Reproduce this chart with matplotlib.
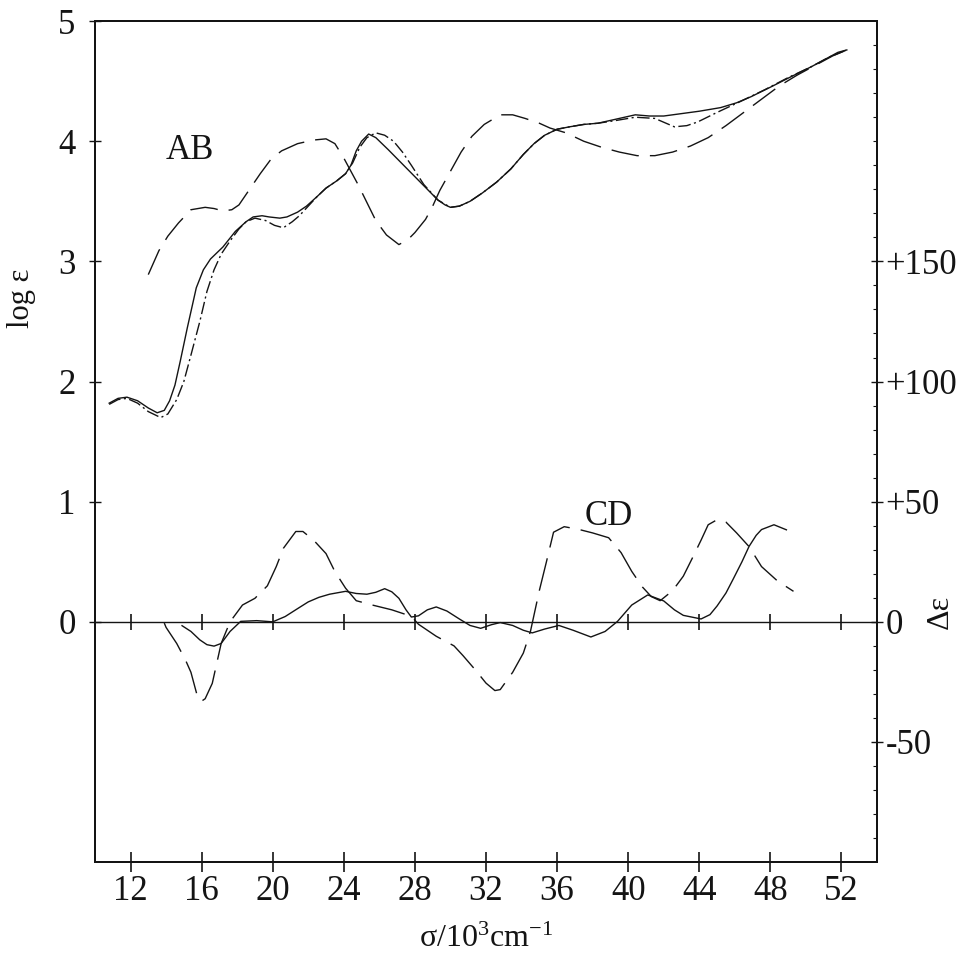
import numpy as np
import matplotlib
matplotlib.use("Agg")
import matplotlib.pyplot as plt

plt.rcParams["font.family"] = ["Liberation Serif", "DejaVu Serif"]
plt.rcParams["mathtext.fontset"] = "custom"
plt.rcParams["mathtext.rm"] = "Liberation Serif"
plt.rcParams["mathtext.it"] = "Liberation Serif:italic"

# ---- absorption (log eps) ----
ab_solid_x = [10.8, 11.3, 11.8, 12.4, 13.0, 13.5, 13.9, 14.2, 14.5, 14.8, 15.2, 15.7, 16.1, 16.5,
              17.2, 17.9, 18.5, 18.9, 19.4, 19.8, 20.4, 20.8, 21.4, 21.9, 22.5, 23.0, 23.6, 24.1,
              24.4, 24.7, 25.0, 25.4, 25.8, 26.5, 27.1, 27.7, 28.5, 29.3, 29.7, 30.0, 30.5, 31.1,
              31.8, 32.6, 33.4, 34.1, 34.7, 35.3, 36.0, 36.7, 37.5, 38.3, 39.2, 40.4, 41.2, 42.0,
              43.0, 44.0, 45.2, 46.1, 46.9, 48.0, 49.2, 50.3, 51.3, 51.8, 52.3]
ab_solid_y = [1.82, 1.86, 1.87, 1.84, 1.78, 1.74, 1.76, 1.84, 1.97, 2.17, 2.45, 2.78, 2.93, 3.02,
              3.12, 3.25, 3.33, 3.37, 3.38, 3.37, 3.36, 3.37, 3.41, 3.46, 3.54, 3.61, 3.67, 3.73,
              3.80, 3.92, 4.00, 4.06, 4.03, 3.93, 3.84, 3.75, 3.63, 3.51, 3.47, 3.45, 3.46, 3.50,
              3.57, 3.66, 3.77, 3.89, 3.98, 4.05, 4.10, 4.12, 4.14, 4.15, 4.18, 4.22, 4.21, 4.21,
              4.23, 4.25, 4.28, 4.32, 4.37, 4.45, 4.54, 4.62, 4.70, 4.74, 4.76]

ab_dashdot_x = [10.8, 11.3, 11.8, 12.4, 13.0, 13.7, 14.1, 14.6, 15.0, 15.4, 15.9, 16.3, 16.7, 17.1,
                17.6, 18.1, 18.5, 19.0, 19.6, 20.1, 20.6, 21.1, 21.5, 22.0, 22.5, 23.0, 23.6, 24.1,
                24.5, 24.9, 25.3, 25.8, 26.3, 26.8, 27.3, 27.8, 28.5, 29.3, 30.0, 30.5, 31.1, 31.8,
                32.6, 33.4, 34.1, 34.7, 35.3, 36.0, 36.7, 37.5, 38.3, 39.2, 40.4, 41.5, 42.6, 43.3,
                43.9, 45.0, 46.3, 47.7, 49.0, 50.3, 51.3, 52.3]
ab_dashdot_y = [1.81, 1.85, 1.86, 1.82, 1.75, 1.70, 1.73, 1.85, 2.00, 2.22, 2.50, 2.75, 2.93, 3.06,
                3.17, 3.27, 3.33, 3.36, 3.34, 3.30, 3.28, 3.33, 3.38, 3.46, 3.54, 3.61, 3.67, 3.73,
                3.82, 3.95, 4.03, 4.07, 4.05, 4.00, 3.91, 3.80, 3.64, 3.51, 3.45, 3.46, 3.50, 3.57,
                3.66, 3.77, 3.89, 3.98, 4.05, 4.10, 4.12, 4.14, 4.15, 4.17, 4.20, 4.19, 4.12, 4.13,
                4.16, 4.24, 4.33, 4.43, 4.53, 4.62, 4.70, 4.76]

ab_dashed_x = [13.0, 13.6, 14.1, 14.7, 15.4, 16.2, 16.7, 17.2, 17.7, 18.1, 18.7, 19.3, 19.9, 20.5,
               21.4, 22.3, 23.0, 23.5, 24.0, 24.4, 24.8, 25.3, 25.8, 26.4, 27.1, 27.6, 28.0, 28.6,
               29.0, 29.4, 30.0, 30.6, 31.2, 31.9, 32.8, 33.5, 34.2, 35.0, 35.6, 36.5, 37.5, 38.5,
               39.5, 40.5, 41.5, 42.5, 43.5, 44.5, 45.5, 46.5, 47.5, 48.5, 49.5, 50.5, 51.5, 52.3]
ab_dashed_y = [2.89, 3.09, 3.21, 3.32, 3.43, 3.45, 3.44, 3.42, 3.43, 3.47, 3.60, 3.73, 3.85, 3.92,
               3.98, 4.01, 4.02, 3.98, 3.86, 3.75, 3.64, 3.49, 3.34, 3.22, 3.14, 3.18, 3.24, 3.35,
               3.46, 3.59, 3.75, 3.91, 4.04, 4.14, 4.22, 4.22, 4.19, 4.15, 4.11, 4.07, 4.00, 3.95,
               3.91, 3.88, 3.88, 3.91, 3.96, 4.03, 4.13, 4.24, 4.35, 4.46, 4.55, 4.63, 4.71, 4.76]

# ---- circular dichroism (delta eps) ----
cd_solid_x = [14.9, 15.4, 15.9, 16.3, 16.7, 17.1, 17.6, 18.2, 19.1, 20.0, 20.7, 21.4, 22.0, 22.6,
              23.2, 24.1, 24.7, 25.3, 25.8, 26.3, 26.7, 27.1, 27.5, 27.8, 28.2, 28.7, 29.2, 29.8,
              30.5, 31.1, 31.7, 32.3, 32.8, 33.5, 34.1, 34.6, 35.3, 36.1, 36.9, 37.9, 38.7, 39.4,
              40.2, 41.1, 42.0, 42.6, 43.1, 44.1, 44.6, 45.0, 45.5, 45.9, 46.4, 46.8, 47.2, 47.5,
              48.2, 48.9]
cd_solid_y = [-1.6, -4.0, -7.5, -9.5, -10.1, -9.0, -4.0, 0.2, 0.5, 0.0, 2.2, 5.5, 8.3, 10.2,
              11.5, 12.7, 11.8, 11.5, 12.3, 13.8, 12.5, 9.8, 5.0, 2.0, 2.5, 5.0, 6.2, 4.5,
              1.2, -1.5, -2.7, -1.2, -0.3, -1.5, -3.5, -4.6, -3.0, -1.5, -3.5, -6.3, -4.0, 0.2,
              7.0, 11.2, 8.7, 5.0, 2.7, 1.2, 3.0, 6.6, 12.0, 17.7, 25.0, 31.4, 36.0, 38.4,
              40.4, 38.3]

cd_dashed_x = [13.9, 14.0, 14.6, 15.1, 15.4, 15.8, 16.0, 16.2, 16.6, 17.1, 17.6, 18.3, 19.0, 19.7,
               20.2, 20.6, 21.3, 21.7, 22.3, 23.0, 23.5, 24.1, 24.7, 25.6, 26.7, 27.8, 28.2, 29.2,
               30.2, 30.7, 31.4, 32.0, 32.5, 32.8, 33.5, 34.1, 34.5, 35.0, 35.4, 35.8, 36.4, 37.2,
               38.0, 38.9, 39.6, 40.2, 40.8, 41.3, 41.8, 42.5, 43.1, 43.6, 44.1, 44.5, 45.0, 45.5,
               46.1, 46.8, 47.5, 48.4, 49.3]
cd_dashed_y = [-0.5, -2.3, -9.0, -16.0, -21.0, -32.0, -33.0, -32.0, -25.6, -9.0, 0.0, 7.0, 9.8, 15.0,
               23.0, 30.6, 37.6, 37.6, 34.0, 28.4, 20.9, 14.0, 8.8, 7.0, 5.0, 2.3, -1.0, -6.0,
               -10.0, -14.0, -20.0, -25.5, -28.6, -28.2, -21.0, -13.0, -4.0, 13.0, 25.0, 37.3, 39.6, 38.5,
               37.0, 35.0, 28.8, 21.0, 14.5, 10.5, 8.8, 13.0, 19.0, 26.4, 34.0, 40.4, 42.5, 41.5,
               37.0, 31.3, 23.0, 17.0, 12.7]

x_ticks = [12, 16, 20, 24, 28, 32, 36, 40, 44, 48, 52]
left_ticks = [0, 1, 2, 3, 4, 5]
right_ticks = [-50, 0, 50, 100, 150]
right_labels = ["-50", "0", "+50", "+100", "+150"]

ink = "#141414"
fs = 25

fig = plt.figure(figsize=(9.64, 9.59), dpi=100)
ax = fig.add_axes([0.0985, 0.101, 0.8113, 0.877])
ax.set_xlim(10, 54)
ax.set_ylim(-2, 5)
ax2 = ax.twinx()
ax2.set_ylim(-100, 250)

lw = 1.0
ax.plot(ab_solid_x, ab_solid_y, color=ink, lw=lw)
ax.plot(ab_dashdot_x, ab_dashdot_y, color=ink, lw=lw, dashes=(9, 2.5, 1.5, 2.5))
ax.plot(ab_dashed_x, ab_dashed_y, color=ink, lw=lw, dashes=(20, 8))

ax2.plot(cd_solid_x, cd_solid_y, color=ink, lw=lw)
ax2.plot(cd_dashed_x, cd_dashed_y, color=ink, lw=lw, dashes=(24, 8))

# zero line of the CD scale with its own crossing ticks
ax.axhline(0, color=ink, lw=1.0)
ax.plot(x_ticks, np.zeros(len(x_ticks)), ls="none", marker="|", ms=12, mew=1.2, color=ink)

for a in (ax, ax2):
    for s in a.spines.values():
        s.set_linewidth(1.4)
        s.set_color(ink)

ax.set_xticks(x_ticks)
ax.set_xticklabels([str(t) for t in x_ticks])
ax.set_yticks(left_ticks)
ax.set_yticklabels([str(t) for t in left_ticks])
ax.tick_params(axis="x", direction="inout", length=14, width=1.2, labelsize=fs, pad=2, colors=ink)
ax.tick_params(axis="y", direction="inout", length=8, width=1.0, labelsize=fs, pad=10, colors=ink)

ax2.set_yticks(right_ticks)
ax2.set_yticklabels(right_labels)
ax2.set_yticks(np.arange(-90, 250, 10), minor=True)
ax2.tick_params(axis="y", which="major", direction="inout", length=8, width=1.0,
                labelsize=fs, pad=2, colors=ink)
ax2.tick_params(axis="y", which="minor", direction="in", length=3, width=0.8, colors=ink)

ax.set_xlabel(r"σ/10$^{3}$cm$^{\mathrm{-1}}$", fontsize=23, color=ink, labelpad=12)
ax.set_ylabel("log ε", fontsize=22, color=ink, labelpad=12)
ax.yaxis.set_label_coords(-0.075, 0.67)

# right-hand axis title, placed inside the figure edge
fig.text(940 / 964, 1 - 612 / 959, "Δε", fontsize=23, color=ink, rotation=90,
         ha="center", va="center")

ax.text(15.35, 3.92, "AB", fontsize=fs, color=ink, ha="center", va="center")
ax.text(38.9, 0.88, "CD", fontsize=fs, color=ink, ha="center", va="center")

fig.savefig("out.png", dpi=100, facecolor="white")
